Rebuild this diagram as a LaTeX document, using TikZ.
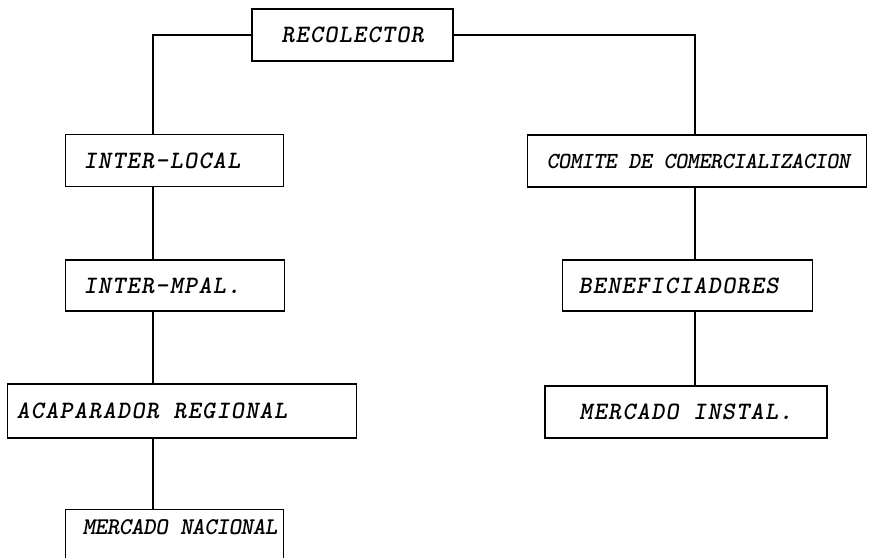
\documentclass[tikz,border=0pt]{standalone}
\usepackage{fontspec}
\usepackage{tikz}
\usetikzlibrary{positioning}
\usetikzlibrary{calc}
\newfontfamily\boxfont{lmmonolt10-boldoblique.otf}[LetterSpace=5]
\newfontfamily\boxfontnarrow{lmmonolt10-boldoblique.otf}[LetterSpace=-2]
\newcommand{\lefttext}[2]{\makebox[#1][l]{#2}}
\tikzset{
    stage/.style={draw=black, line width=1.2pt, minimum height=52pt, inner ysep=0pt,
        font=\fontsize{25}{27}\selectfont\boxfont},
    stageleft/.style={stage, anchor=west},
    narrowtext/.style={font=\fontsize{24}{26}\selectfont\boxfontnarrow},
    link/.style={draw=black, line width=1.2pt},
}

\begin{document}
\begin{tikzpicture}[x=1pt, y=-1pt]
	\useasboundingbox (0,0) rectangle (872,557);
	\coordinate (lcol) at (153,0);
	\coordinate (rcol) at (695,0);
	\node[stage, minimum width=201pt] (rec) at (352.5,35) {RECOLECTOR};
% left branch
	\node[stageleft, inner xsep=18pt] (local) at (65,160.5) {\lefttext{182pt}{INTER-LOCAL}};
	\node[stageleft, inner xsep=18pt, minimum height=51pt] (mpal) at (65,285.5) {\lefttext{183pt}{INTER-MPAL.}};
	\node[stageleft, inner xsep=9pt, minimum height=54pt] (acap) at (7,411) {\lefttext{331pt}{ACAPARADOR REGIONAL}};
	\node[stageleft, narrowtext, anchor=north west, inner xsep=17pt, minimum height=0pt,
		text height=25pt, text depth=30pt] (nac) at (65,509) {\lefttext{184pt}{MERCADO NACIONAL}};
% right branch
	\node[stageleft, font=\fontsize{23}{25}\selectfont\boxfontnarrow, inner xsep=19pt] (comite) at (527,161) {\lefttext{301pt}{COMITE DE COMERCIALIZACION}};
	\node[stageleft, inner xsep=16pt, minimum height=51pt] (benef) at (562,285.5) {\lefttext{218pt}{BENEFICIADORES}};
	\node[stage, minimum width=282pt] (inst) at (686,412) {MERCADO INSTAL.};
% connectors
	\draw[link] (rec.west) -| (lcol |- local.north);
	\draw[link] (rec.east) -| (rcol |- comite.north);
	\draw[link] (lcol |- local.south) -- (lcol |- mpal.north);
	\draw[link] (lcol |- mpal.south) -- (lcol |- acap.north);
	\draw[link] (lcol |- acap.south) -- (lcol |- nac.north);
	\draw[link] (rcol |- comite.south) -- (rcol |- benef.north);
	\draw[link] (rcol |- benef.south) -- (rcol |- inst.north);
\end{tikzpicture}
\end{document}
